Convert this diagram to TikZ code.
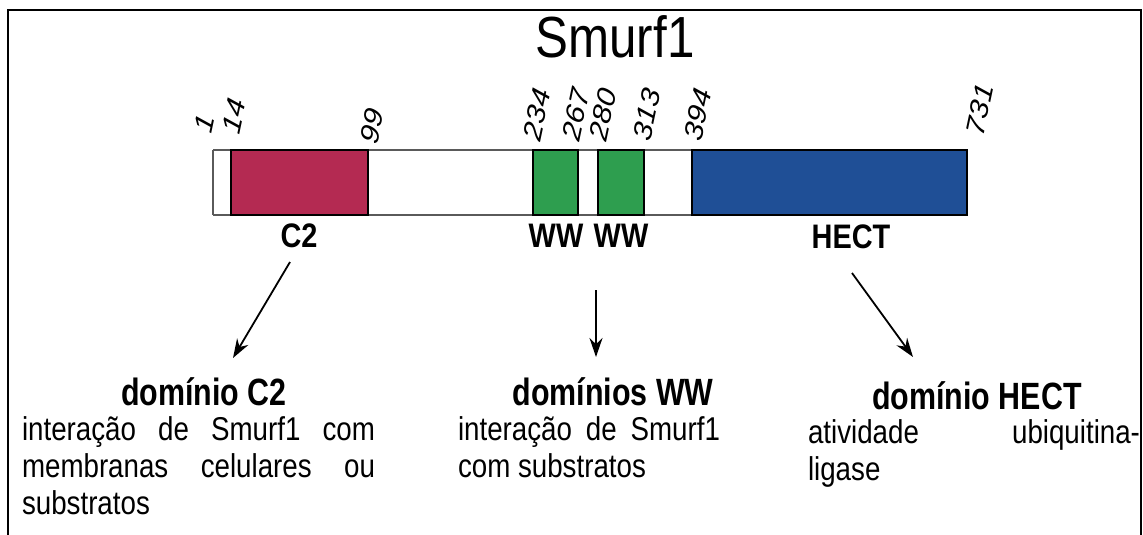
\documentclass[tikz,border=0pt]{standalone}
\usepackage{fontspec}
\setmainfont{Liberation Sans}
\newfontfamily\nar[FakeStretch=0.85]{Liberation Sans}
\newfontfamily\headfont[FakeStretch=0.8]{Liberation Sans}
\newfontfamily\bodyfont[FakeStretch=0.84]{Liberation Sans}
\newfontfamily\numfont{Liberation Sans}
\usetikzlibrary{arrows.meta}
\definecolor{c2red}{RGB}{180,42,82}
\definecolor{wwgreen}{RGB}{46,158,79}
\definecolor{hectblue}{RGB}{31,79,150}
\definecolor{bargray}{RGB}{90,90,90}
\begin{document}
\begin{tikzpicture}[x=1pt,y=-1pt,
 every node/.style={inner sep=0pt, outer sep=0pt},
 frame/.style={line width=2.5pt, black},
 domainbox/.style={draw=black, line width=1.2pt},
 barline/.style={draw=bargray, line width=1.5pt},
 numlbl/.style={font=\numfont\itshape\fontsize{31}{31}\selectfont},
 sublbl/.style={font=\nar\bfseries\fontsize{34}{34}\selectfont, anchor=base},
 headlbl/.style={font=\headfont\bfseries\fontsize{38}{38}\selectfont, anchor=base},
 bodytxt/.style={font=\bodyfont\fontsize{33}{37}\selectfont, anchor=base west},
 arrowline/.style={line width=1.8pt, -{Stealth[length=19pt,width=13pt]}},
]
\useasboundingbox (0,0) rectangle (1143,535);
\draw[frame] (8,540) -- (8,10) -- (1141,10) -- (1141,540);
% title
\node[font=\nar\fontsize{58}{58}\selectfont, anchor=base] (title) at (615,58) {Smurf1};
% bar
\fill[white] (213,150) rectangle (967,215);
\draw[barline] (213,150) -- (967,150) (213,215) -- (967,215) (213,150) -- (213,215);
\filldraw[domainbox, fill=c2red] (231,150) rectangle (368,215);
\filldraw[domainbox, fill=wwgreen] (533,150) rectangle (578,215);
\filldraw[domainbox, fill=wwgreen] (598,150) rectangle (644,215);
\filldraw[domainbox, fill=hectblue] (692,150) rectangle (967,215);
% position numbers
\foreach \v/\px/\py in {1/211/134, 14/239/135, 99/377/145, 234/540/142, 267/579/142, 280/606/142, 313/650/142, 394/701/142, 731/983/137}{
 \begin{scope}[shift={(\px,\py)}, xscale=0.85]
 \node[numlbl, transform shape, rotate=76, anchor=base west] (n\v) at (0,0) {\v};
 \end{scope}
}
% domain labels
\node[sublbl] (lc2) at (299,247) {C2};
\node[sublbl] (lww1) at (556,247) {WW};
\node[sublbl] (lww2) at (621,247) {WW};
\node[sublbl] (lhect) at (851,248) {HECT};
% arrows
\coordinate (a1s) at (290,262);
\coordinate (a1e) at (233,358);
\coordinate (a2s) at (596,290);
\coordinate (a2e) at (596,357);
\coordinate (a3s) at (852,273);
\coordinate (a3e) at (913,357);
\draw[arrowline] (a1s) -- (a1e);
\draw[arrowline] (a2s) -- (a2e);
\draw[arrowline] (a3s) -- (a3e);
% headings
\node[headlbl] (hc2) at (204,405) {domínio C2};
\node[headlbl] (hww) at (613,405) {domínios WW};
\node[headlbl] (hhect) at (977,409) {domínio HECT};
% body texts
\node[bodytxt] (b1a) at (22,440) {\makebox[353pt][s]{interação de Smurf1 com}};
\node[bodytxt] (b1b) at (22,477) {\makebox[353pt][s]{membranas celulares ou}};
\node[bodytxt] (b1c) at (22,514) {substratos};
\node[bodytxt] (b2a) at (458,440) {\makebox[262pt][s]{interação de Smurf1}};
\node[bodytxt] (b2b) at (458,477) {com substratos};
\node[bodytxt] (b3a) at (808,443) {\makebox[332pt][s]{atividade ubiquitina-}};
\node[bodytxt] (b3b) at (808,480) {ligase};
\end{tikzpicture}
\end{document}
